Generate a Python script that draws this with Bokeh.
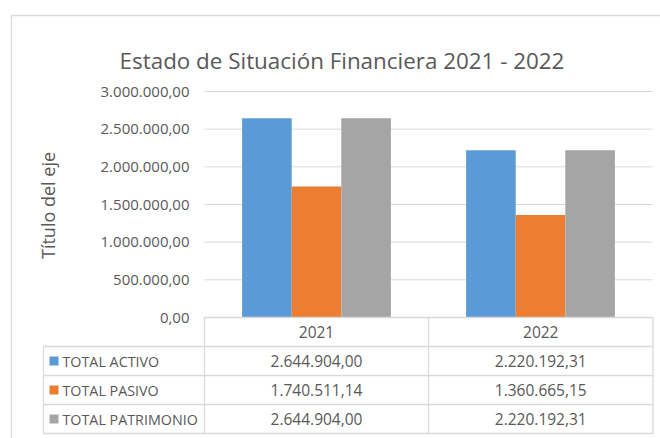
from bokeh.plotting import figure
from bokeh.models import Range1d, ColumnDataSource
from bokeh.transform import dodge
from bokeh.core.properties import value
from bokeh.embed import file_html
from bokeh.resources import INLINE
import math

# ---------------- data ----------------
title = "Estado de Situación Financiera 2021 - 2022"
axis_title = "Título del eje"
years = ["2021", "2022"]
series_names = ["TOTAL ACTIVO", "TOTAL PASIVO", "TOTAL PATRIMONIO"]
total_activo = [2644904.00, 2220192.31]
total_pasivo = [1740511.14, 1360665.15]
total_patrimonio = [2644904.00, 2220192.31]
y_ticks = [0, 500000, 1000000, 1500000, 2000000, 2500000, 3000000]
y_tick_labels = ["0,00", "500.000,00", "1.000.000,00", "1.500.000,00",
                 "2.000.000,00", "2.500.000,00", "3.000.000,00"]
colors = ["#5B9BD5", "#ED7D31", "#A5A5A5"]


def es_fmt(v):
    s = f"{v:,.2f}"
    return s.replace(",", "X").replace(".", ",").replace("X", ".")


FONT = "Open Sans"
TXT = "#595959"
LINE = "#D9D9D9"

W, H = 660, 438
p = figure(width=W, height=H, output_backend="svg", toolbar_location=None,
           x_range=Range1d(-0.9107, 2.0357), y_range=Range1d(-1606195, 4207965),
           x_axis_location=None, y_axis_location=None, min_border=0,
           outline_line_color=None, background_fill_color="white",
           border_fill_color="white")
p.grid.visible = False
p.extra_x_ranges = {"px": Range1d(0, W)}
p.extra_y_ranges = {"px": Range1d(H, 0)}

# outer chart border (left and top)
p.segment(x0=[11, 11], y0=[15, 15], x1=[11, W], y1=[H, 15],
          x_range_name="px", y_range_name="px", line_color=LINE, line_width=1.3)

# gridlines (value scale)
gsrc = ColumnDataSource(dict(y=y_ticks, x0=[0] * len(y_ticks), x1=[2] * len(y_ticks),
                             lab=y_tick_labels))
p.segment(x0="x0", x1="x1", y0="y", y1="y", source=gsrc, line_color=LINE, line_width=1)
p.text(x=189, y="y", text="lab", source=gsrc, x_range_name="px",
       text_align="right", text_baseline="middle", text_font=value(FONT),
       text_font_size="15px", text_color=TXT)

# bars
bsrc = ColumnDataSource(dict(x=[i + 0.5 for i in range(len(years))],
                             a=total_activo, b=total_pasivo, c=total_patrimonio))
bw = 0.2214
for key, off, col in zip(["a", "b", "c"], [-bw, 0, bw], colors):
    p.vbar(x=dodge("x", off), top=key, bottom=0, width=bw, source=bsrc,
           fill_color=col, line_color=None)

# title and axis title
p.text(x=[341.5], y=[60], text=[title], x_range_name="px", y_range_name="px",
       text_align="center", text_baseline="alphabetic", text_font=value(FONT),
       text_font_size="22.4px", text_color=TXT)
p.text(x=[47], y=[205], text=[axis_title], x_range_name="px", y_range_name="px",
       angle=math.pi / 2, text_align="center", text_baseline="middle",
       text_font=value(FONT), text_font_size="18px", text_color=TXT)

# data table
t_left, c1, c2, c3 = 43, 204, 428, 652.5
r0, rh = 317, 29
rows_y = [r0 + rh * k for k in range(5)]
hx0 = [c1] + [t_left] * 4
hx1 = [c3] * 5
p.segment(x0=hx0, x1=hx1, y0=rows_y, y1=rows_y, x_range_name="px", y_range_name="px",
          line_color=LINE, line_width=1.3)
vx = [t_left, c1, c2, c3]
vy0 = [rows_y[1], r0, r0, r0]
p.segment(x0=vx, x1=vx, y0=vy0, y1=[rows_y[4]] * 4, x_range_name="px", y_range_name="px",
          line_color=LINE, line_width=1.3)

col_cx = [(c1 + c2) / 2, (c2 + c3) / 2]
p.text(x=col_cx, y=[r0 + rh / 2] * 2, text=years, x_range_name="px", y_range_name="px",
       text_align="center", text_baseline="middle", text_font=value(FONT),
       text_font_size="15.5px", text_color=TXT)

row_cy = [r0 + rh * (k + 1) + rh / 2 for k in range(3)]
p.scatter(x=[53.5] * 3, y=row_cy, marker="square", size=9, fill_color=colors,
          line_color=None, x_range_name="px", y_range_name="px")
p.text(x=[62] * 3, y=row_cy, text=series_names, x_range_name="px", y_range_name="px",
       text_align="left", text_baseline="middle", text_font=value(FONT),
       text_font_size="14.3px", text_color=TXT)

cells_x, cells_y, cells_t = [], [], []
for k, vals in enumerate([total_activo, total_pasivo, total_patrimonio]):
    for j, v in enumerate(vals):
        cells_x.append(col_cx[j])
        cells_y.append(row_cy[k])
        cells_t.append(es_fmt(v))
p.text(x=cells_x, y=cells_y, text=cells_t, x_range_name="px", y_range_name="px",
       text_align="center", text_baseline="middle", text_font=value(FONT),
       text_font_size="15.5px", text_color=TXT)

open("out.html", "w").write(file_html(p, INLINE))
